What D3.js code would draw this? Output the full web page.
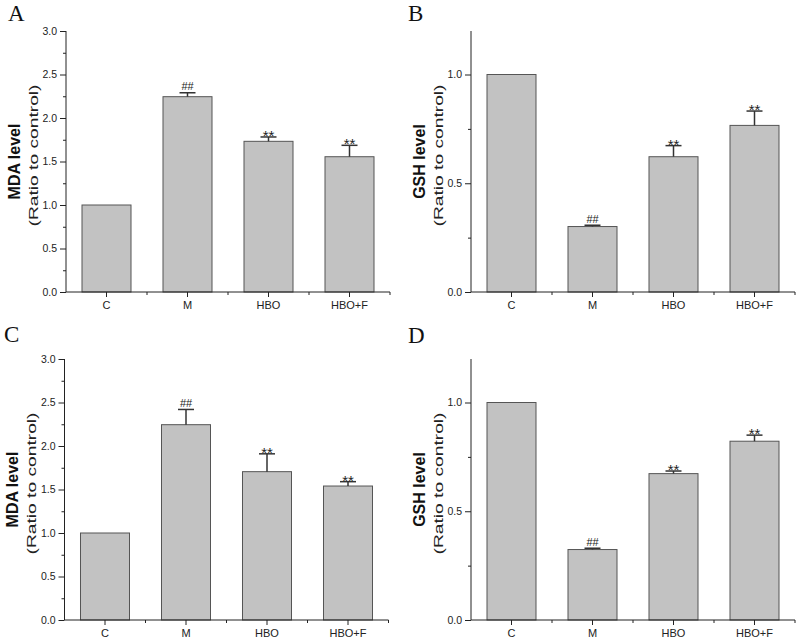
<!DOCTYPE html>
<html>
<head>
<meta charset="utf-8">
<script src="https://cdn.jsdelivr.net/npm/d3@7"></script>
<style>
  html, body { margin: 0; padding: 0; background: #fff; }
  svg { display: block; }
</style>
</head>
<body>
<svg id="chart" width="800" height="641"></svg>
<script>
// ---------- data ----------
const categories = ["C", "M", "HBO", "HBO+F"];
const signifLabels = ["", "##", "**", "**"];

const mdaA = [1.0, 2.245, 1.732, 1.555];
const mdaAErr = [0, 0.045, 0.05, 0.131];

const gshB = [1.0, 0.301, 0.622, 0.766];
const gshBErr = [0, 0.006, 0.051, 0.066];

const mdaC = [1.0, 2.245, 1.705, 1.54];
const mdaCErr = [0, 0.175, 0.205, 0.05];

const gshD = [1.0, 0.324, 0.673, 0.822];
const gshDErr = [0, 0.006, 0.012, 0.028];

const mdaMajorTicks = [0, 0.5, 1.0, 1.5, 2.0, 2.5, 3.0];
const mdaMinorTicks = [0.25, 0.75, 1.25, 1.75, 2.25, 2.75];
const gshMajorTicks = [0, 0.5, 1.0];
const gshMinorTicks = [0.25, 0.75];

const panels = [
  { letter: "A", lx: 8, ly: 21, x0: 66, y0: 31, values: mdaA, errs: mdaAErr, yMax: 3.0,
    major: mdaMajorTicks, minor: mdaMinorTicks, title: "MDA level" },
  { letter: "B", lx: 408, ly: 21, x0: 471, y0: 31, values: gshB, errs: gshBErr, yMax: 1.2,
    major: gshMajorTicks, minor: gshMinorTicks, title: "GSH level" },
  { letter: "C", lx: 4, ly: 342, x0: 64.5, y0: 359, values: mdaC, errs: mdaCErr, yMax: 3.0,
    major: mdaMajorTicks, minor: mdaMinorTicks, title: "MDA level" },
  { letter: "D", lx: 408, ly: 343, x0: 471, y0: 359, values: gshD, errs: gshDErr, yMax: 1.2,
    major: gshMajorTicks, minor: gshMinorTicks, title: "GSH level" }
];

// ---------- drawing ----------
const svg = d3.select("#chart");
const plotW = 324, plotH = 261;
const axisColor = "#222";
const pad = 0.395;

panels.forEach(p => {
  const g = svg.append("g").attr("transform", `translate(${p.x0},${p.y0})`);

  const x = d3.scaleBand().domain(categories).range([0, plotW]).paddingInner(pad).paddingOuter(pad / 2);
  const y = d3.scaleLinear().domain([0, p.yMax]).range([plotH, 0]);

  // panel letter
  svg.append("text")
    .attr("x", p.lx).attr("y", p.ly)
    .attr("font-family", "'Liberation Serif', 'Times New Roman', serif")
    .attr("font-size", 23)
    .attr("fill", "#111")
    .text(p.letter);

  // bars
  g.selectAll("rect.bar").data(p.values).enter().append("rect")
    .attr("class", "bar")
    .attr("x", (d, i) => x(categories[i]))
    .attr("y", d => y(d))
    .attr("width", x.bandwidth())
    .attr("height", d => plotH - y(d))
    .attr("fill", "#c2c2c2")
    .attr("stroke", "#555")
    .attr("stroke-width", 1);

  // error bars (upper only)
  const capW = 16;
  p.values.forEach((v, i) => {
    if (!p.errs[i]) return;
    const cx = x(categories[i]) + x.bandwidth() / 2;
    const top = y(v + p.errs[i]);
    g.append("line").attr("x1", cx).attr("x2", cx).attr("y1", y(v)).attr("y2", top)
      .attr("stroke", "#333").attr("stroke-width", 1.5);
    g.append("line").attr("x1", cx - capW / 2).attr("x2", cx + capW / 2).attr("y1", top).attr("y2", top)
      .attr("stroke", "#333").attr("stroke-width", 1.5);
  });

  // significance labels
  p.values.forEach((v, i) => {
    if (!signifLabels[i]) return;
    const cx = x(categories[i]) + x.bandwidth() / 2;
    const top = y(v + p.errs[i]);
    const isStar = signifLabels[i] === "**";
    g.append("text")
      .attr("x", cx).attr("y", top - (isStar ? -4 : 2.5))
      .attr("text-anchor", "middle")
      .attr("font-family", "'Liberation Sans', Arial, sans-serif")
      .attr("font-size", isStar ? 15 : 11)
      .attr("fill", "#222")
      .text(signifLabels[i]);
  });

  // y axis: major
  const yAxis = d3.axisLeft(y).tickValues(p.major).tickFormat(d3.format(".1f")).tickSize(6).tickPadding(3);
  const ya = g.append("g").call(yAxis);
  ya.select(".domain").attr("stroke", axisColor).attr("d", `M0,${plotH}V0`);
  // y axis: minor
  const yMinor = d3.axisLeft(y).tickValues(p.minor).tickFormat("").tickSize(3);
  const ym = g.append("g").call(yMinor);
  ym.select(".domain").remove();

  // x axis: major (category) ticks
  const xAxis = d3.axisBottom(x).tickSize(5).tickPadding(4);
  const xa = g.append("g").attr("transform", `translate(0,${plotH})`).call(xAxis);
  xa.select(".domain").attr("stroke", axisColor).attr("d", `M0,0H${plotW}`);
  // x axis: minor ticks at boundaries between categories and at the right end
  const boundaries = categories.slice(1).map(c => x(c) - x.step() * x.paddingInner() / 2);
  boundaries.push(plotW);
  const xm = g.append("g").attr("transform", `translate(0,${plotH})`);
  xm.selectAll("line").data(boundaries).enter().append("line")
    .attr("x1", d => d).attr("x2", d => d).attr("y1", 0).attr("y2", 3)
    .attr("stroke", axisColor);

  [ya, ym, xa].forEach(a => {
    a.selectAll(".tick line").attr("stroke", axisColor);
    a.selectAll(".tick text")
      .attr("font-family", "'Liberation Sans', Arial, sans-serif")
      .attr("font-size", 10.5)
      .attr("fill", "#222");
  });
  xa.selectAll(".tick text").attr("font-size", 11);

  // y titles
  const cy = plotH / 2;
  g.append("text")
    .attr("transform", `translate(${-52},${cy}) rotate(-90)`)
    .attr("text-anchor", "middle")
    .attr("dominant-baseline", "central")
    .attr("font-family", "'Liberation Sans', Arial, sans-serif")
    .attr("font-weight", "bold")
    .attr("font-size", 16)
    .attr("fill", "#111")
    .text(p.title);
  g.append("text")
    .attr("transform", `translate(${-33},${cy - 6}) rotate(-90)`)
    .attr("text-anchor", "middle")
    .attr("dominant-baseline", "central")
    .attr("font-family", "'Liberation Sans', Arial, sans-serif")
    .attr("font-size", 13)
    .attr("textLength", 142)
    .attr("lengthAdjust", "spacingAndGlyphs")
    .attr("fill", "#222")
    .text("(Ratio to control)");
});
</script>
</body>
</html>
